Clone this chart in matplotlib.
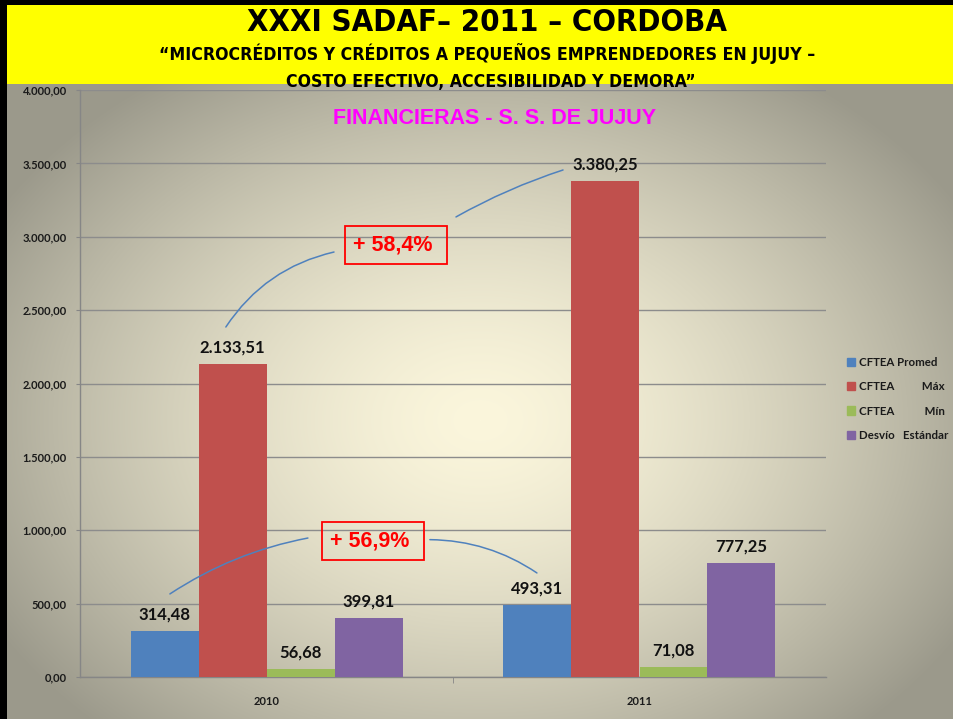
import numpy as np
import matplotlib
matplotlib.use("Agg")
import matplotlib.pyplot as plt
from matplotlib.patches import Rectangle

# ---- data ----
categories = ["2010", "2011"]
series_names = ["CFTEA Promed", "CFTEA          Máx", "CFTEA           Mín", "Desvío   Estándar"]
promed = [314.48, 493.31]
maximo = [2133.51, 3380.25]
minimo = [56.68, 71.08]
desvio = [399.81, 777.25]
series_colors = ["#4f81bd", "#c0504d", "#9bbb59", "#8064a2"]
yticks = [0, 500, 1000, 1500, 2000, 2500, 3000, 3500, 4000]
pct_max = "+ 58,4%"
pct_prom = "+ 56,9%"

W, H = 954, 719
DPI = 100
fig = plt.figure(figsize=(W / DPI, H / DPI), dpi=DPI)

def fmt(v, dec=2):
    s = f"{v:,.{dec}f}"
    return s.replace(",", "X").replace(".", ",").replace("X", ".")

# ---- background gradient ----
bg = fig.add_axes([0, 0, 1, 1], zorder=-10)
yy, xx = np.mgrid[0:H, 0:W]
cx, cy = 480, 420
dx = (xx - cx) / 560.0
dy = (yy - cy) / 420.0
t = np.clip(np.sqrt(dx ** 2 + dy ** 2), 0, 1) ** 1.5
c0 = np.array([0xfb, 0xf6, 0xdc]) / 255.0
c1 = np.array([0x9b, 0x99, 0x8b]) / 255.0
img = c0[None, None, :] * (1 - t[..., None]) + c1[None, None, :] * t[..., None]
bg.imshow(img, extent=[0, W, H, 0], aspect="auto")
bg.set_xlim(0, W)
bg.set_ylim(H, 0)
bg.axis("off")
# banner and borders
bg.add_patch(Rectangle((0, 0), W, 84, color="#ffff00", lw=0))
bg.add_patch(Rectangle((0, 0), W, 5, color="black", lw=0))
bg.add_patch(Rectangle((0, 0), 7, H, color="black", lw=0))

cond = ["DejaVu Sans"]
fig.text(487 / W, 1 - 31 / H, "XXXI SADAF– 2011 – CORDOBA", ha="center", va="baseline",
         fontsize=22.3, fontweight="bold", family=cond, fontstretch="condensed", color="black")
fig.text(487 / W, 1 - 60 / H, "“MICROCRÉDITOS Y CRÉDITOS A PEQUEÑOS EMPRENDEDORES EN JUJUY –",
         ha="center", va="baseline", fontsize=12.7, fontweight="bold", family=cond,
         fontstretch="condensed", color="black")
fig.text(491 / W, 1 - 87 / H, "COSTO EFECTIVO, ACCESIBILIDAD Y DEMORA”",
         ha="center", va="baseline", fontsize=12.7, fontweight="bold", family=cond,
         fontstretch="condensed", color="black")

# ---- main axes ----
L, R, T, B = 80, 826, 90, 677
ax = fig.add_axes([L / W, 1 - B / H, (R - L) / W, (B - T) / H])
ax.set_facecolor("none")

data = [promed, maximo, minimo, desvio]
x = np.arange(len(categories))
bw = 68 / 373
lab_font = ["Lato", "DejaVu Sans"]
for i, (vals, col, name) in enumerate(zip(data, series_colors, series_names)):
    pos = x + (i - 1.5) * bw
    ax.bar(pos, vals, width=bw, color=col, label=name, zorder=3)
    for p, v in zip(pos, vals):
        ax.annotate(fmt(v), (p, v), xytext=(0, 6), textcoords="offset points",
                    ha="center", va="bottom", fontsize=12, fontweight="bold",
                    family=lab_font, color="#111111", zorder=5)

ax.set_xlim(-0.5, 1.5)
ax.set_ylim(0, 4000)
ax.set_yticks(yticks)
ax.set_yticklabels([fmt(v) for v in yticks])
ax.set_xticks(x)
ax.set_xticklabels(categories)
ax.set_xticks([0.5], minor=True)
ax.tick_params(axis="x", which="major", length=0, pad=14, labelsize=8)
ax.tick_params(axis="x", which="minor", length=4, color="#868686")
ax.tick_params(axis="y", length=3, color="#868686", pad=6.5, labelsize=8)
for lbl in ax.get_xticklabels() + ax.get_yticklabels():
    lbl.set_fontweight("bold")
    lbl.set_family(lab_font)
    lbl.set_color("#1a1a1a")
ax.grid(axis="y", color="#8c8c8c", lw=1.0, zorder=1)
for s in ["top", "right"]:
    ax.spines[s].set_visible(False)
for s in ["left", "bottom"]:
    ax.spines[s].set_color("#868686")
    ax.spines[s].set_linewidth(1.0)

ax.text(0.556, 0.952, "FINANCIERAS - S. S. DE JUJUY", transform=ax.transAxes,
        ha="center", va="center", fontsize=15.5, fontweight="bold",
        family=["Liberation Sans", "DejaVu Sans"], color="#ff00ff")

# ---- annotations ----
box = dict(boxstyle="square,pad=0.38", facecolor="none", edgecolor="#ff0000", lw=1.3)
ax.text(0.347, 2944, pct_max + " ", ha="center", va="center", fontsize=15.5, fontweight="bold",
        family=["Liberation Sans", "DejaVu Sans"], color="#ff0000", bbox=box, zorder=6)
ax.text(0.286, 927, pct_prom + " ", ha="center", va="center", fontsize=15.5, fontweight="bold",
        family=["Liberation Sans", "DejaVu Sans"], color="#ff0000", bbox=box, zorder=6)

lc = "#4f81bd"
def curve(p0, p1, rad):
    ax.annotate("", xy=p1, xytext=p0,
                arrowprops=dict(arrowstyle="-", color=lc, lw=1.1,
                                connectionstyle=f"arc3,rad={rad}", shrinkA=0, shrinkB=0),
                zorder=6)

curve((-0.109, 2385), (0.181, 2896), -0.2)
curve((0.508, 3135), (0.795, 3455), -0.05)
curve((-0.259, 566), (0.111, 947), -0.1)
curve((0.438, 936), (0.725, 709), -0.15)

# ---- legend ----
handles = [Rectangle((0, 0), 1, 1, color=c) for c in series_colors]
leg = fig.legend(handles, series_names, loc="upper left",
                 bbox_to_anchor=(847 / W, 1 - 357 / H), frameon=False,
                 handlelength=0.7, handleheight=0.7, handletextpad=0.3,
                 labelspacing=1.15, borderaxespad=0, borderpad=0,
                 prop=dict(size=8.3, weight="bold", family=lab_font))
for txt in leg.get_texts():
    txt.set_color("#1a1a1a")

fig.savefig("out.png", dpi=DPI)
